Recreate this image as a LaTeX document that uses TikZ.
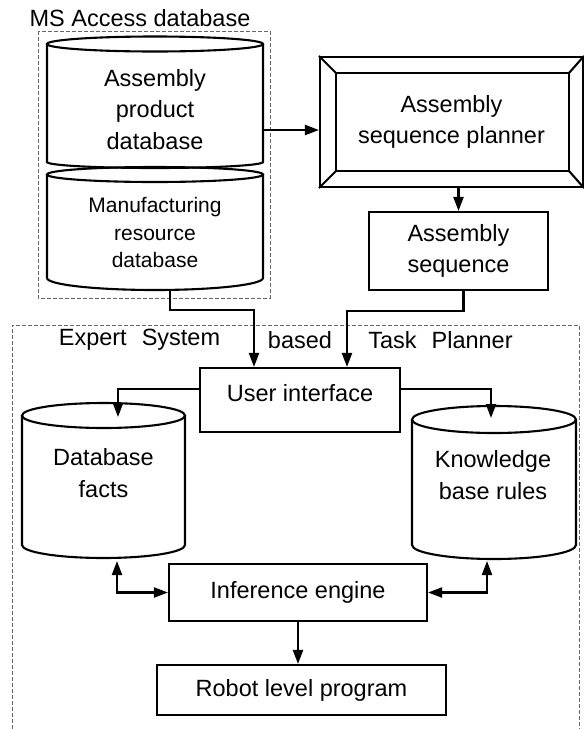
\documentclass[tikz,border=0pt]{standalone}
\usepackage{fontspec}
\setmainfont{Liberation Sans}
\usetikzlibrary{arrows.meta}
\tikzset{
  box/.style={draw,line width=2.1pt,align=center,font=\fontsize{23.5}{31.5}\selectfont},
  txt/.style={align=center,font=\fontsize{23.5}{31.5}\selectfont},
  grp/.style={draw=gray!80!black,line width=0.7pt,dash pattern=on 4pt off 2pt},
  lnk/.style={line width=2.1pt,->},
  cyl/.style={line width=2.1pt}
}
% cx, ytop, ybot, rx, ry top, ry bottom
\newcommand{\dbcyl}[6]{%
  \draw[cyl] ({#1-#4},#2) -- ({#1-#4},#3) arc[start angle=180,end angle=360,x radius=#4pt,y radius=#6pt] -- ({#1+#4},#2);
  \draw[cyl] (#1,#2) ellipse[x radius=#4pt,y radius=#5pt];
}

\begin{document}
\begin{tikzpicture}[x=1pt,y=-1pt,>={Triangle[length=14pt,width=10pt]}]
    \useasboundingbox (0,0) rectangle (584,729);

    \draw[grp] (38,31) rectangle (270,298);
    \draw[grp] (12,729) -- (12,325) -- (579,325) -- (579,729);
    \node[txt] (msa) at (140,18) {MS Access database};
    \node[txt] (es) at (139.5,340) {Expert\hspace{15pt}System};
    \node[txt] (bs) at (300,340) {based};
    \node[txt] (tp) at (440.5,340) {Task\hspace{15pt}Planner};

    \dbcyl{155}{44}{162}{108}{7.5}{6}
    \dbcyl{155}{174.5}{278}{108}{7.5}{12}
    \dbcyl{103.5}{415.5}{545}{81.5}{12.5}{13}
    \dbcyl{494}{419.5}{545}{82}{13.5}{14}
    \node[txt] (apd) at (155,109.5) {Assembly\\product\\database};
    \node[txt,font=\fontsize{21}{27.5}\selectfont] (mrd) at (155,232.5) {Manufacturing\\resource\\database};
    \node[txt] (dbf) at (103.5,473) {Database\\facts};
    \node[txt] (kb) at (493,475) {Knowledge\\base rules};
    \coordinate (apdr) at (263,130);
    \coordinate (mrdb) at (170,290);
    \coordinate (dbft) at (118,417);
    \coordinate (dbfb) at (117,561);
    \coordinate (kbt) at (491,418);
    \coordinate (kbb) at (487,561);

    \node[box,minimum width=263pt,minimum height=130pt] (asp) at (451.5,122) {Assembly\\sequence planner};
    \draw[cyl] ([shift={(17,17)}]asp.north west) rectangle ([shift={(-15,-17)}]asp.south east);
    \draw[cyl] (asp.north west) -- ++(17,17);
    \draw[cyl] (asp.north east) -- ++(-15,17);
    \draw[cyl] (asp.south west) -- ++(17,-17);
    \draw[cyl] (asp.south east) -- ++(-15,-17);
    \node[box,minimum width=179pt,minimum height=78pt] (asq) at (458.5,251) {Assembly\\sequence};
    \node[box,minimum width=200pt,minimum height=64pt,text depth=14pt] (ui) at (300,400) {User interface};
    \node[box,minimum width=258pt,minimum height=57pt] (ie) at (298,592.5) {Inference engine};
    \node[box,minimum width=289pt,minimum height=50pt] (rlp) at (301.5,690) {Robot level program};

    \draw[lnk] (apdr) -- (apdr -| asp.west);
    \draw[lnk] (asp.south -| asq.north) -- (asq.north);
    \draw[lnk] ([xshift=5pt]asq.south) -- ++(0,20) -| ([xshift=47pt]ui.north);
    \draw[lnk] (mrdb) -- ++(0,20) -| ([xshift=-46pt]ui.north);
    \draw[lnk] ([yshift=11pt]ui.west) -| (dbft);
    \draw[lnk] ([yshift=11pt]ui.east) -| (kbt);
    \draw[lnk,<->] (dbfb) |- (ie.west);
    \draw[lnk,<->] (kbb) |- (ie.east);
    \draw[lnk] (ie.south) -- (ie.south |- rlp.north);
\end{tikzpicture}
\end{document}
